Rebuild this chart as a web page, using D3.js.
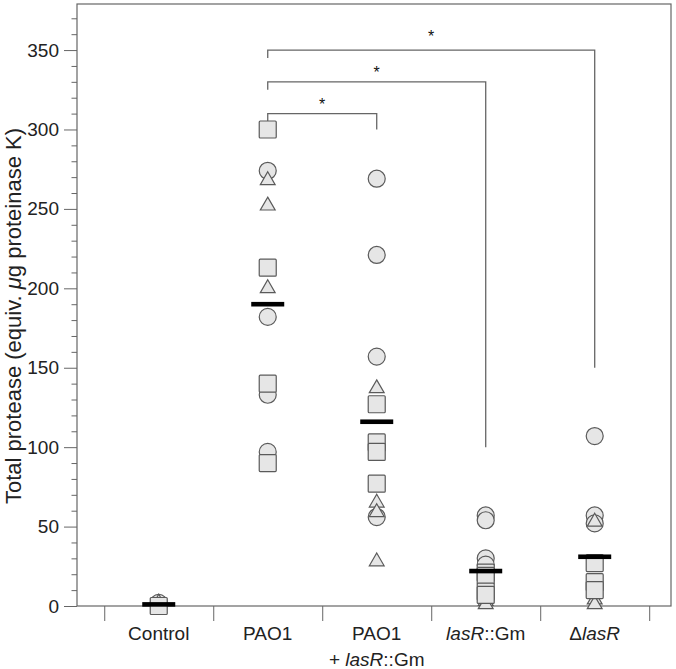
<!DOCTYPE html>
<html><head><meta charset="utf-8">
<script src="https://cdn.jsdelivr.net/npm/d3@7"></script>
<style>body{margin:0;background:#fff}svg{display:block}text{font-family:"Liberation Sans",Arial,sans-serif}</style>
</head><body><svg id="c" width="676" height="669"></svg>
<script>
// ---- data ----
const categories = ["Control", "PAO1", "PAO1 + lasR::Gm", "lasR::Gm", "ΔlasR"];
const circles = [[2], [274, 182, 133, 97], [269, 221, 157, 56], [57, 54, 30, 26], [107, 57, 52]];
const triangles = [[2], [268, 252, 200], [137, 65, 59, 28], [3, 1], [53, 4, 1]];
const squares = [[0], [300, 213, 140, 90], [127, 103, 97, 77], [21, 19, 9, 7], [27, 15, 10]];
const means = [1, 190, 116, 22, 31];
const yTicks = [0, 50, 100, 150, 200, 250, 300, 350];
// significance brackets: [from group, to group, bar value, left leg end, right leg end, star value]
const brackets = [[1, 2, 310, 305, 300, 318], [1, 3, 330, 325, 100, 338], [1, 4, 350, 345, 150, 361]];
// label lines: segments [text, italic]
const labelLines = [
  [[["Control", false]]],
  [[["PAO1", false]]],
  [[["PAO1", false]], [["+ ", false], ["lasR", true], ["::Gm", false]]],
  [[["lasR", true], ["::Gm", false]]],
  [[["Δ", false], ["lasR", true]]]
];

// ---- chart ----
const svg = d3.select("#c");
const mLeft = 77, mRight = 671, mTop = 4, mBottom = 606;
const x = d3.scaleLinear().domain([0.25, 5.7]).range([mLeft, mRight]);
const y = d3.scaleLinear().domain([0, 379]).range([mBottom, mTop]);
const frameCol = "#666", fillCol = "#e6e6e6", markStroke = "#5a5a5a";
const fs = 19;

// minor ticks
const minor = d3.range(0, 380, 10).filter(v => v % 50 !== 0);
svg.append("g").attr("transform", `translate(${mLeft},0)`)
  .call(d3.axisLeft(y).tickValues(minor).tickSize(5.5).tickFormat(""))
  .call(g => g.select(".domain").remove())
  .call(g => g.selectAll("line").attr("stroke", frameCol));
svg.append("g").attr("transform", `translate(${mLeft},0)`)
  .call(d3.axisLeft(y).tickValues(yTicks).tickSize(13).tickPadding(5))
  .call(g => g.select(".domain").remove())
  .call(g => g.selectAll("line").attr("stroke", frameCol))
  .call(g => g.selectAll("text").attr("font-size", fs).attr("fill", "#222")
    .attr("font-family", "'Liberation Sans',Arial,sans-serif"));

// x ticks
svg.append("g").attr("transform", `translate(0,${mBottom})`)
  .call(d3.axisBottom(x).tickValues(d3.range(0.5, 6, 1)).tickSize(15).tickFormat(""))
  .call(g => g.select(".domain").remove())
  .call(g => g.selectAll("line").attr("stroke", frameCol));

// frame
svg.append("rect").attr("x", mLeft).attr("y", mTop).attr("width", mRight - mLeft).attr("height", mBottom - mTop)
  .attr("fill", "none").attr("stroke", frameCol).attr("stroke-width", 1.2);

// x labels
labelLines.forEach((lines, i) => {
  lines.forEach((segs, j) => {
    const t = svg.append("text").attr("x", x(i + 1)).attr("y", 640 + j * 26)
      .attr("text-anchor", "middle").attr("font-size", fs).attr("fill", "#222");
    segs.forEach(s => t.append("tspan").text(s[0]).attr("font-style", s[1] ? "italic" : "normal"));
  });
});

// y label
const yl = svg.append("text").attr("transform", `translate(21,${316}) rotate(-90)`)
  .attr("text-anchor", "middle").attr("font-size", 22).attr("fill", "#222");
yl.append("tspan").text("Total protease (equiv. ");
yl.append("tspan").text("μ").attr("font-style", "italic");
yl.append("tspan").text("g proteinase K)");

// brackets
const bg = svg.append("g").attr("fill", "none").attr("stroke", frameCol).attr("stroke-width", 1.3);
brackets.forEach(b => {
  const x1 = x(b[0] + 1), x2 = x(b[1] + 1);
  bg.append("path").attr("d", `M${x1},${y(b[3])}V${y(b[2])}H${x2}V${y(b[4])}`);
  svg.append("text").attr("x", (x1 + x2) / 2).attr("y", y(b[5]) + 9)
    .attr("text-anchor", "middle").attr("font-size", 16).attr("fill", "#111").text("*");
});

// markers
const flat = (arr) => arr.flatMap((vals, i) => vals.map(v => ({g: i + 1, v})));
const mg = svg.append("g").attr("fill", fillCol).attr("stroke", markStroke).attr("stroke-width", 1.2);
mg.selectAll("circle").data(flat(circles)).join("circle")
  .attr("cx", d => x(d.g)).attr("cy", d => y(d.v)).attr("r", 8.5);
const tri = d3.symbol().type(d3.symbolTriangle).size(95);
mg.selectAll("path.t").data(flat(triangles)).join("path").attr("class", "t")
  .attr("d", tri).attr("transform", d => `translate(${x(d.g)},${y(d.v)})`);
mg.selectAll("rect").data(flat(squares)).join("rect")
  .attr("x", d => x(d.g) - 8.5).attr("y", d => y(d.v) - 8.5).attr("width", 17).attr("height", 17).attr("rx", 1);

// means
svg.selectAll("rect.m").data(means).join("rect").attr("class", "m")
  .attr("x", (d, i) => x(i + 1) - 16.5).attr("y", d => y(d) - 2.3).attr("width", 33).attr("height", 4.6)
  .attr("fill", "#000");
</script></body></html>
